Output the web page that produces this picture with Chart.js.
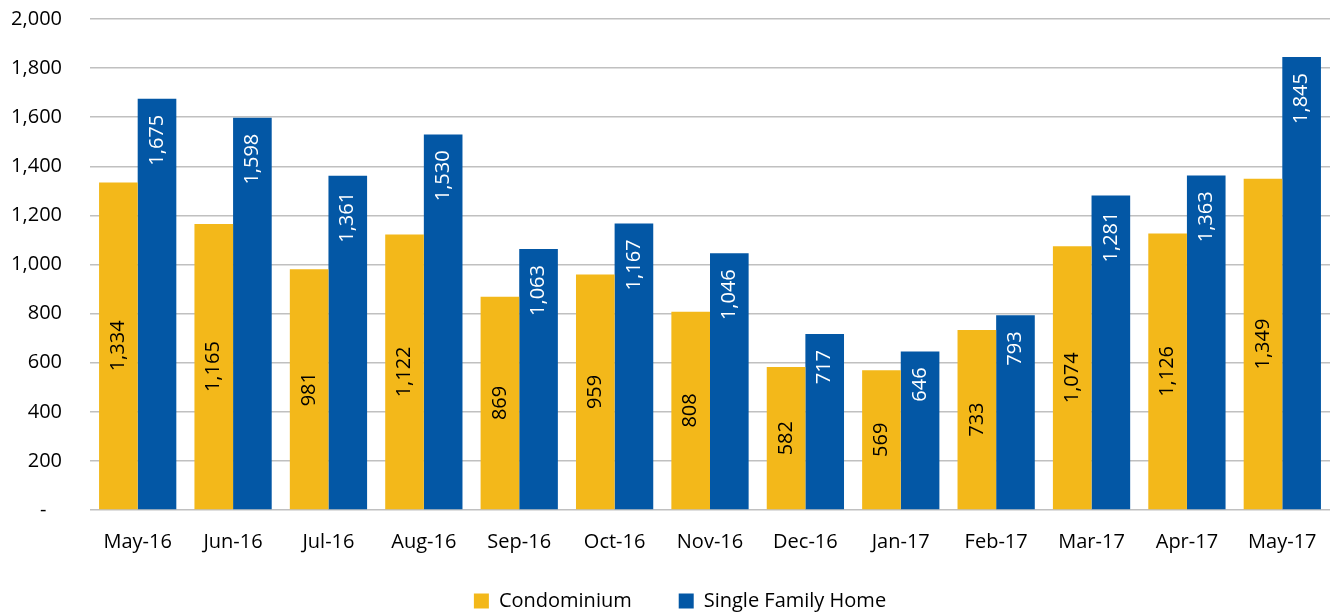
<!DOCTYPE html>
<html>
<head>
<meta charset="utf-8">
<title>Sales</title>
<script src="https://cdn.jsdelivr.net/npm/chart.js@4.4.0/dist/chart.umd.min.js"></script>
<style>
  html, body { margin: 0; padding: 0; background: #fff; }
  #wrap { width: 1334px; height: 615px; }
</style>
</head>
<body>
<div id="wrap"><canvas id="gr"></canvas></div>
<script>
// months on the x axis
const months = ['May-16', 'Jun-16', 'Jul-16', 'Aug-16', 'Sep-16', 'Oct-16', 'Nov-16',
                'Dec-16', 'Jan-17', 'Feb-17', 'Mar-17', 'Apr-17', 'May-17'];
const condo = [1334, 1165, 981, 1122, 869, 959, 808, 582, 569, 733, 1074, 1126, 1349];
const sfh = [1675, 1598, 1361, 1530, 1063, 1167, 1046, 717, 646, 793, 1281, 1363, 1845];

const FONT = 'Open Sans, sans-serif';
const fmt = v => v.toLocaleString('en-US');

// rotated value labels inside the bars (yellow: middle, blue: near top)
const barLabels = {
  id: 'barLabels',
  afterInit(chart) {
    // legend: wide gap between items but a short box
    const lg = chart.legend;
    const fit = lg.fit;
    lg.fit = function () { fit.call(this); this.height = 49; };
  },
  afterLayout(chart) {
    const lg = chart.legend;
    lg.top = lg.bottom - 71;
    lg.left += 30;
  },
  afterDatasetsDraw(chart) {
    const ctx = chart.ctx;
    chart.data.datasets.forEach((ds, i) => {
      const meta = chart.getDatasetMeta(i);
      meta.data.forEach((bar, j) => {
        const txt = fmt(ds.data[j]);
        ctx.save();
        ctx.font = '20px ' + FONT;
        ctx.fillStyle = i === 0 ? '#000' : '#fff';
        ctx.textBaseline = 'middle';
        if (i === 0) {
          ctx.translate(bar.x, (bar.y + bar.base) / 2);
          ctx.rotate(-Math.PI / 2);
          ctx.textAlign = 'center';
        } else {
          ctx.translate(bar.x, bar.y + 16);
          ctx.rotate(-Math.PI / 2);
          ctx.textAlign = 'right';
        }
        ctx.fillText(txt, 0, 0);
        ctx.restore();
      });
    });
  }
};

new Chart(document.getElementById('gr'), {
  type: 'bar',
  data: {
    labels: months,
    datasets: [
      { label: 'Condominium', data: condo, backgroundColor: '#F3B81A' },
      { label: 'Single Family Home', data: sfh, backgroundColor: '#0357A5' }
    ]
  },
  options: {
    responsive: true,
    maintainAspectRatio: false,
    animation: false,
    layout: { padding: { top: 19, right: 4, left: 0, bottom: 0 } },
    datasets: { bar: { categoryPercentage: 0.81, barPercentage: 1.0 } },
    plugins: {
      tooltip: { enabled: false },
      legend: {
        position: 'bottom',
        labels: {
          font: { family: FONT, size: 20 },
          color: '#000',
          boxWidth: 15,
          boxHeight: 15,
          padding: 47
        }
      }
    },
    scales: {
      x: {
        grid: { display: false },
        border: { display: false },
        ticks: { font: { family: FONT, size: 20 }, color: '#000', padding: 12 }
      },
      y: {
        min: 0,
        max: 2000,
        grid: { color: '#c0c0c0', lineWidth: 1.5, drawTicks: true, tickLength: 25, tickColor: 'rgba(0,0,0,0)' },
        border: { display: false },
        afterFit(scale) { scale.width = 90; },
        ticks: {
          stepSize: 200,
          padding: 3,
          color: '#000',
          font: { family: FONT, size: 20 },
          callback: v => v === 0 ? '-   ' : fmt(v)
        }
      }
    }
  },
  plugins: [barLabels]
});
</script>
</body>
</html>
